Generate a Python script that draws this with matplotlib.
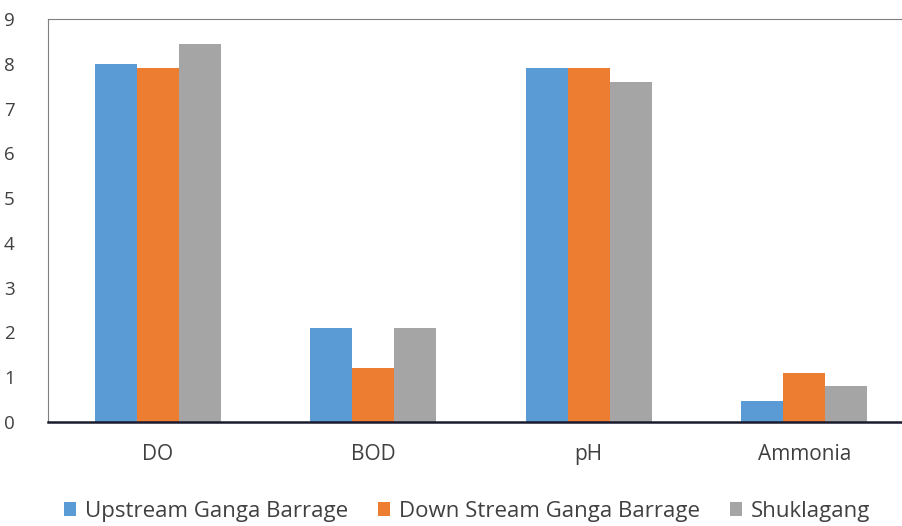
import matplotlib.pyplot as plt
import numpy as np

# Water quality parameters at three sites
params = ['DO', 'BOD', 'pH', 'Ammonia']
upstream = [8.0, 2.1, 7.9, 0.47]
downstream = [7.9, 1.2, 7.9, 1.1]
shuklagang = [8.45, 2.1, 7.6, 0.8]
series_names = ['Upstream Ganga Barrage', 'Down Stream Ganga Barrage', 'Shuklagang']
colors = ['#5B9BD5', '#ED7D31', '#A5A5A5']

plt.rcParams['font.family'] = ['Open Sans', 'DejaVu Sans']

fig = plt.figure(figsize=(9.02, 5.26), dpi=100)
ax = fig.add_axes([48 / 902, 1 - 422 / 526, 864 / 902, 403 / 526])

x = np.arange(len(params))
w = 0.195
for i, (vals, name, c) in enumerate(zip([upstream, downstream, shuklagang], series_names, colors)):
    ax.bar(x + (i - 1) * w, vals, width=w, color=c, label=name)

ax.set_xlim(-0.51, 3.5)
ax.set_ylim(0, 9)
ax.set_yticks(range(10))
ax.set_xticks(x)
ax.set_xticklabels(params)
ax.tick_params(axis='y', length=0, pad=24, labelsize=13.5, labelcolor='#404040')
ax.tick_params(axis='x', length=0, pad=16, labelsize=15, labelcolor='#404040')
for lab in ax.get_yticklabels():
    lab.set_horizontalalignment('right')

ax.spines['top'].set_color('#7f7f7f')
ax.spines['left'].set_color('#7f7f7f')
ax.spines['right'].set_visible(False)
ax.spines['bottom'].set_color('#1a1a2e')
ax.spines['bottom'].set_linewidth(1.8)

fig.legend(loc='center', bbox_to_anchor=(0.518, 0.028), ncol=3, frameon=False,
           fontsize=16, handlelength=0.55, handleheight=0.55, handletextpad=0.4,
           columnspacing=1.35, labelcolor='#404040')

fig.savefig('out.png', dpi=100)
